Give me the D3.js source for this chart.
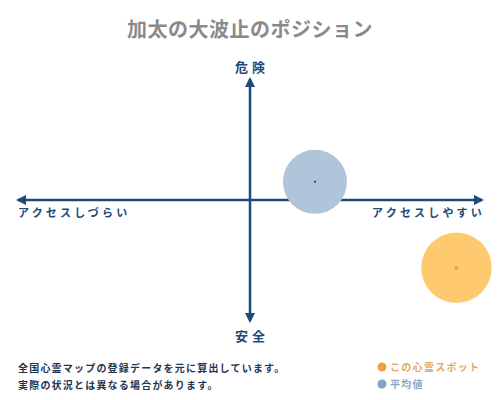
<!DOCTYPE html>
<html>
<head>
<meta charset="utf-8">
<script src="https://cdn.jsdelivr.net/npm/d3@7"></script>
<style>
  body { margin: 0; background: #fff; }
  svg { display: block; font-family: "Noto Sans CJK JP", "Noto Sans", sans-serif; }
</style>
</head>
<body>
<div id="chart"></div>
<script>
// data
const chartTitle = '加太の大波止のポジション'
const axisLabels = ['危険', '安全', 'アクセスしづらい', 'アクセスしやすい']
const spotNames = ['平均値', 'この心霊スポット']
const accessValues = [0.28, 0.89]
const dangerValues = [0.15, -0.56]
const sizeValues = [1.0, 1.1]
const noteLines = ['全国心霊マップの登録データを元に算出しています。', '実際の状況とは異なる場合があります。']
const legendNames = ['この心霊スポット', '平均値']

const width = 500
const height = 400
const axisColor = '#1d4a7a'
const fills = ['#b0c4da', '#fec96f']
const legendDot = ['#f0a040', '#7fa3c8']
const legendText = ['#e0a860', '#8aa8c8']

const svg = d3.select('#chart').append('svg')
    .attr('width', width).attr('height', height)

// scales
const xScale = d3.scaleLinear().domain([-1, 1]).range([18, 482])
const yScale = d3.scaleLinear().domain([-1, 1]).range([321, 79])
const rScale = d3.scaleLinear().domain([0, 1]).range([0, 32])

// titel
svg.append('text')
    .attr('x', width / 2).attr('y', 37)
    .attr('text-anchor', 'middle')
    .attr('font-size', 20).attr('font-weight', 'bold')
    .attr('fill', '#8a8a8a')
    .attr('letter-spacing', 0.5)
    .text(chartTitle)

// pijlpunten
const defs = svg.append('defs')
defs.append('marker')
    .attr('id', 'arrow')
    .attr('viewBox', '0 0 10 10')
    .attr('refX', 8).attr('refY', 5)
    .attr('markerWidth', 4).attr('markerHeight', 4)
    .attr('orient', 'auto-start-reverse')
    .append('path')
    .attr('d', 'M0,0 L10,5 L0,10 z')
    .attr('fill', axisColor)

// assen
svg.append('line')
    .attr('x1', xScale(-1)).attr('x2', xScale(1))
    .attr('y1', yScale(0)).attr('y2', yScale(0))
    .attr('stroke', axisColor).attr('stroke-width', 2.5)
    .attr('marker-start', 'url(#arrow)').attr('marker-end', 'url(#arrow)')
svg.append('line')
    .attr('x1', xScale(0)).attr('x2', xScale(0))
    .attr('y1', yScale(1)).attr('y2', yScale(-1))
    .attr('stroke', axisColor).attr('stroke-width', 2.5)
    .attr('marker-start', 'url(#arrow)').attr('marker-end', 'url(#arrow)')

// as-labels
const labelStyle = sel => sel
    .attr('font-weight', 'bold').attr('fill', axisColor)
svg.append('text').call(labelStyle)
    .attr('x', xScale(0) + 2).attr('y', 72)
    .attr('text-anchor', 'middle').attr('font-size', 13)
    .attr('letter-spacing', 4)
    .text(axisLabels[0])
svg.append('text').call(labelStyle)
    .attr('x', xScale(0) + 2).attr('y', 341)
    .attr('text-anchor', 'middle').attr('font-size', 13)
    .attr('letter-spacing', 4)
    .text(axisLabels[1])
svg.append('text').call(labelStyle)
    .attr('x', xScale(-1)).attr('y', 217)
    .attr('font-size', 11).attr('letter-spacing', 3.2)
    .text(axisLabels[2])
svg.append('text').call(labelStyle)
    .attr('x', xScale(1) + 3).attr('y', 217)
    .attr('text-anchor', 'end')
    .attr('font-size', 11).attr('letter-spacing', 3.2)
    .text(axisLabels[3])

// bubbels
const spots = spotNames.map((name, i) => ({
    name, access: accessValues[i], danger: dangerValues[i], size: sizeValues[i], i
}))
svg.append('g').selectAll('circle').data(spots).enter()
    .append('circle')
    .attr('cx', d => xScale(d.access))
    .attr('cy', d => yScale(d.danger))
    .attr('r', d => rScale(d.size))
    .attr('fill', d => fills[d.i])

// middelpunten
svg.append('circle')
    .attr('cx', xScale(accessValues[0])).attr('cy', yScale(dangerValues[0]))
    .attr('r', 1).attr('fill', '#1a2a3a')
svg.append('path')
    .attr('d', d3.symbol(d3.symbolDiamond2, 14)())
    .attr('transform', `translate(${xScale(accessValues[1])},${yScale(dangerValues[1])})`)
    .attr('fill', '#f0a020')

// voetnoot
svg.append('g').selectAll('text').data(noteLines).enter()
    .append('text')
    .attr('x', 18).attr('y', (d, i) => 372 + i * 17)
    .attr('font-size', 10).attr('font-weight', 'bold')
    .attr('letter-spacing', 1.2)
    .attr('fill', '#1f3550')
    .text(d => d)

// legenda
const legend = svg.append('g').selectAll('g').data(legendNames).enter()
    .append('g')
    .attr('transform', (d, i) => `translate(382, ${367 + i * 17})`)
legend.append('circle')
    .attr('r', 4.5)
    .attr('fill', (d, i) => legendDot[i])
legend.append('text')
    .attr('x', 8).attr('y', 4)
    .attr('font-size', 10).attr('font-weight', 'bold')
    .attr('letter-spacing', 1.3)
    .attr('fill', (d, i) => legendText[i])
    .text(d => d)
</script>
</body>
</html>
